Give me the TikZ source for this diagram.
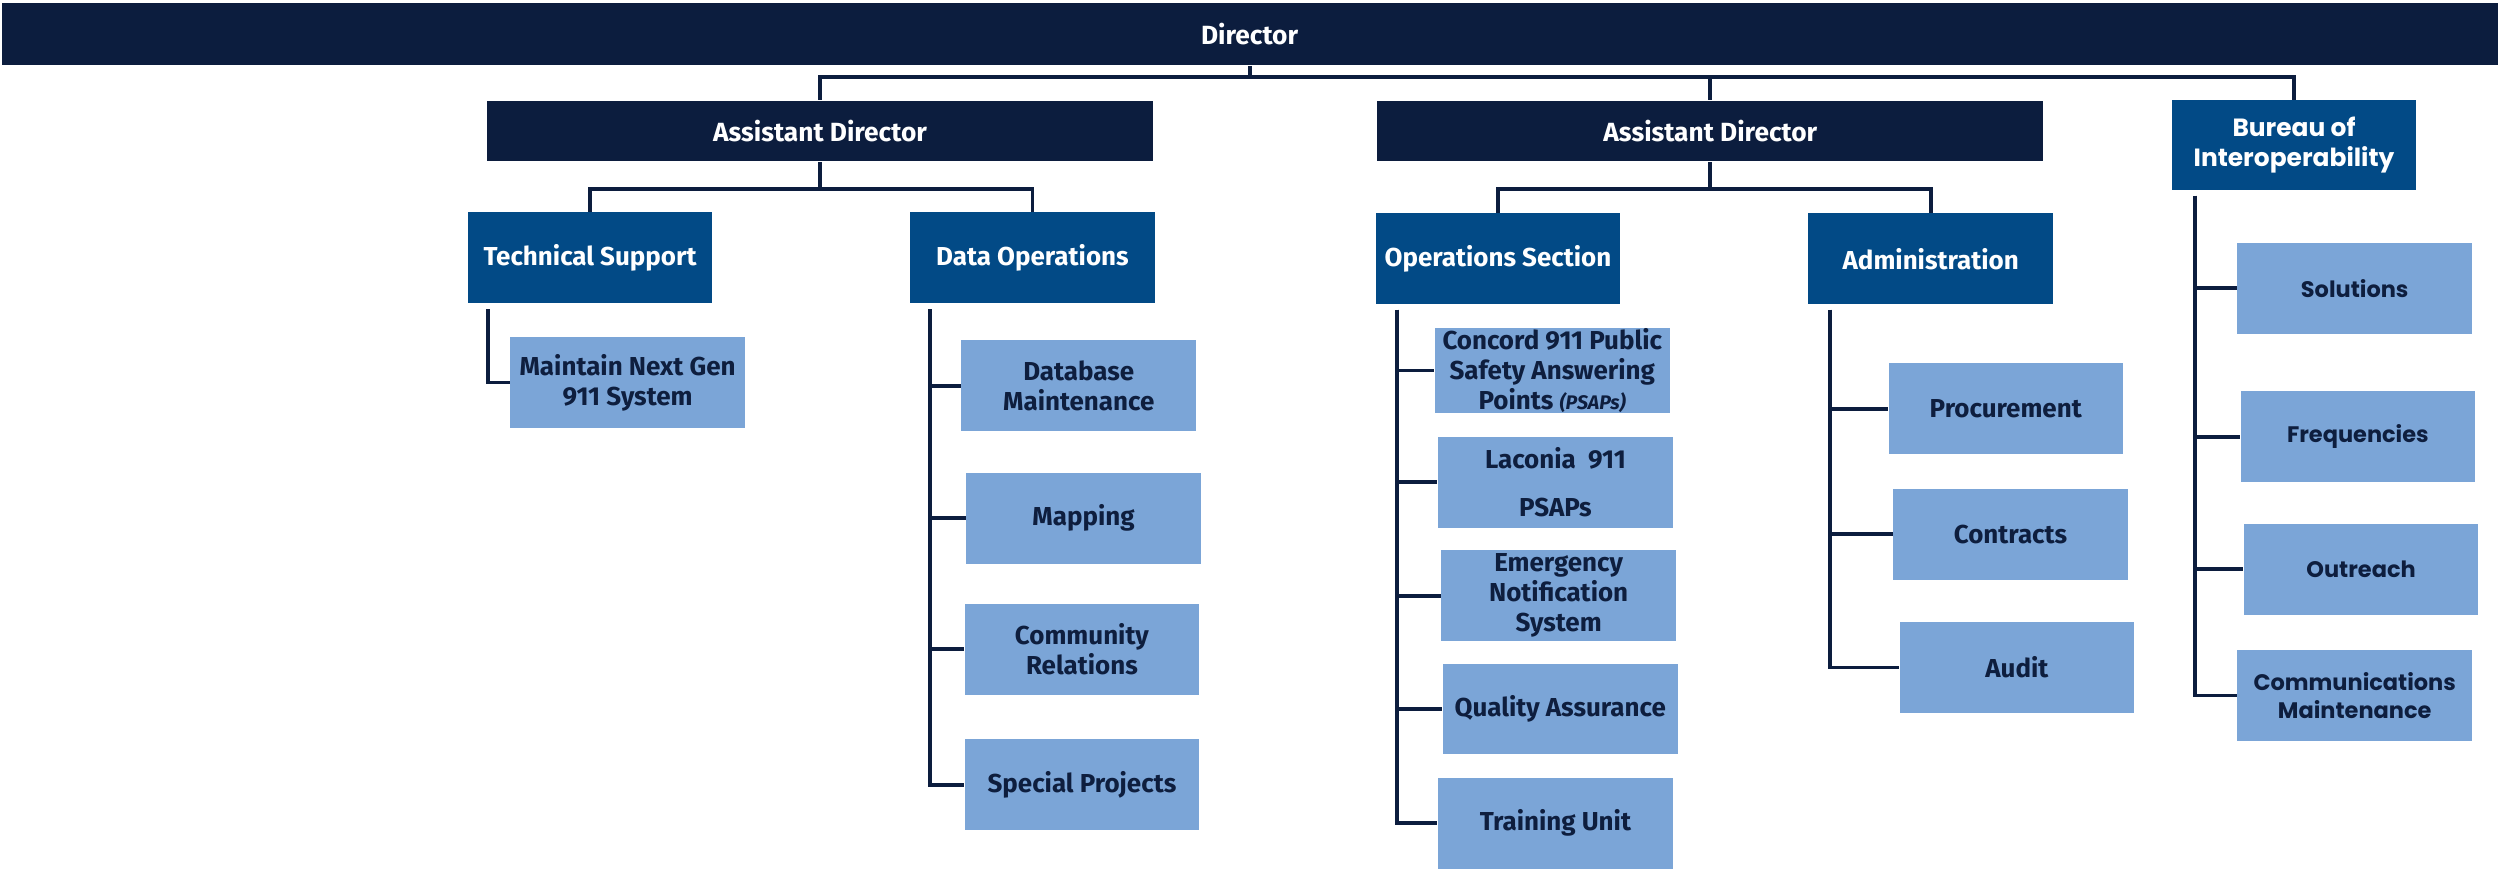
\documentclass[tikz,border=0pt]{standalone}
\usepackage{fontspec}
\setmainfont{Fira Sans}
\newfontfamily\burfont{Poppins}
\usepackage{xcolor}
\definecolor{navy}{HTML}{0C1D3E}
\definecolor{secblue}{HTML}{024A86}
\definecolor{unitblue}{HTML}{7BA5D7}
\definecolor{inkblue}{HTML}{0E1E3E}

\begin{document}
\begin{tikzpicture}[x=0.16mm, y=-0.16mm,
  topbox/.style={fill=navy, text=white, inner sep=0pt, font=\fontsize{7.5}{8.6}\selectfont\bfseries},
  secbox/.style={fill=secblue, text=white, inner sep=0pt, align=center, minimum width=24.5mm, minimum height=9.1mm, font=\fontsize{7.4}{8.6}\selectfont\bfseries},
  burhead/.style={secbox, minimum height=9mm, font=\burfont\fontsize{7.1}{8.6}\selectfont\bfseries},
  unitbox/.style={fill=unitblue, text=inkblue, inner sep=0pt, align=center, minimum width=23.5mm, minimum height=9.1mm, font=\fontsize{7.4}{8.5}\selectfont\bfseries},
  burunit/.style={unitbox, font=\burfont\fontsize{6.4}{8}\selectfont\bfseries},
  link/.style={navy, line width=1.1pt}]
\useasboundingbox (0,0) rectangle (1568,544);

% top of the tree
\node [topbox, minimum width=250.1mm, minimum height=6.2mm] (dir) at (782.5,21.5) {Director};
\node [topbox, minimum width=66.7mm, minimum height=6.1mm] (ad1) at (513.5,82) {Assistant Director};
\node [topbox, minimum width=66.7mm, minimum height=6.1mm] (ad2) at (1071,82) {Assistant Director};
\node [burhead] (bur) at (1436.5,91) {Bureau of\\Interoperability};

% sections
\node [secbox] (tech) at (369.5,161.5) {Technical Support};
\node [secbox] (dataops) at (646.5,161.5) {Data Operations};
\node [secbox] (opsec) at (938,162) {Operations Section};
\node [secbox] (admin) at (1209,162) {Administration};

% units
\node [unitbox] (nextgen) at (393,239.5) {Maintain Next Gen\\911 System};
\node [unitbox] (dbmaint) at (675.5,241.5) {Database\\Maintenance};
\node [unitbox] (mapping) at (678.5,324.5) {Mapping};
\node [unitbox] (community) at (677.5,406.5) {Community\\Relations};
\node [unitbox] (special) at (677.5,491.5) {Special Projects};

\node [unitbox, minimum height=8.6mm] (concord) at (972,232) {Concord 911 Public\\Safety Answering\\Points {\itshape\fontsize{5.6}{6}\selectfont (PSAPs)}};
\node [unitbox] (laconia) at (974,302) {Laconia~ 911\\[5pt]PSAPs};
\node [unitbox] (ens) at (976,373) {Emergency\\Notification\\System};
\node [unitbox] (qa) at (977,444) {Quality Assurance};
\node [unitbox] (training) at (974,515.5) {Training Unit};

\node [unitbox] (procure) at (1256,256) {Procurement};
\node [unitbox] (contracts) at (1259,334.5) {Contracts};
\node [unitbox] (audit) at (1263,418) {Audit};

\node [burunit] (solutions) at (1474.5,180.5) {Solutions};
\node [burunit] (freq) at (1476.5,273.5) {Frequencies};
\node [burunit] (outreach) at (1478.5,356.5) {Outreach};
\node [burunit] (commmaint) at (1474.5,435.5) {Communications\\Maintenance};

% director to its three reports
\draw [link] (dir.south) -- ++(0,7) -| (ad1.north);
\draw [link] (dir.south) ++(0,7) -| (ad2.north);
\draw [link] (dir.south) ++(0,7) -| (bur.north);

% assistant directors to sections
\draw [link] (ad1.south) -- ++(0,17) -| (tech.north);
\draw [link] (ad1.south) ++(0,17) -| (dataops.north);
\draw [link] (ad2.south) -- ++(0,17) -| (opsec.north);
\draw [link] (ad2.south) ++(0,17) -| (admin.north);

% side branches
\draw [link] ([xshift=2.1mm,yshift=-0.5mm]tech.south west) |- (nextgen.west);

\draw [link] ([xshift=2.1mm,yshift=-0.5mm]dataops.south west) |- (dbmaint.west);
\draw [link] ([xshift=2.1mm,yshift=-0.5mm]dataops.south west) |- (mapping.west);
\draw [link] ([xshift=2.1mm,yshift=-0.5mm]dataops.south west) |- (community.west);
\draw [link] ([xshift=2.1mm,yshift=-0.5mm]dataops.south west) |- (special.west);

\draw [link] ([xshift=2.2mm,yshift=-0.5mm]opsec.south west) |- (concord.west);
\draw [link] ([xshift=2.2mm,yshift=-0.5mm]opsec.south west) |- (laconia.west);
\draw [link] ([xshift=2.2mm,yshift=-0.5mm]opsec.south west) |- (ens.west);
\draw [link] ([xshift=2.2mm,yshift=-0.5mm]opsec.south west) |- (qa.west);
\draw [link] ([xshift=2.2mm,yshift=-0.5mm]opsec.south west) |- (training.west);

\draw [link] ([xshift=2.2mm,yshift=-0.5mm]admin.south west) |- (procure.west);
\draw [link] ([xshift=2.2mm,yshift=-0.5mm]admin.south west) |- (contracts.west);
\draw [link] ([xshift=2.2mm,yshift=-0.5mm]admin.south west) |- (audit.west);

\draw [link] ([xshift=2.4mm,yshift=-0.5mm]bur.south west) |- (solutions.west);
\draw [link] ([xshift=2.4mm,yshift=-0.5mm]bur.south west) |- (freq.west);
\draw [link] ([xshift=2.4mm,yshift=-0.5mm]bur.south west) |- (outreach.west);
\draw [link] ([xshift=2.4mm,yshift=-0.5mm]bur.south west) |- (commmaint.west);

\end{tikzpicture}
\end{document}
